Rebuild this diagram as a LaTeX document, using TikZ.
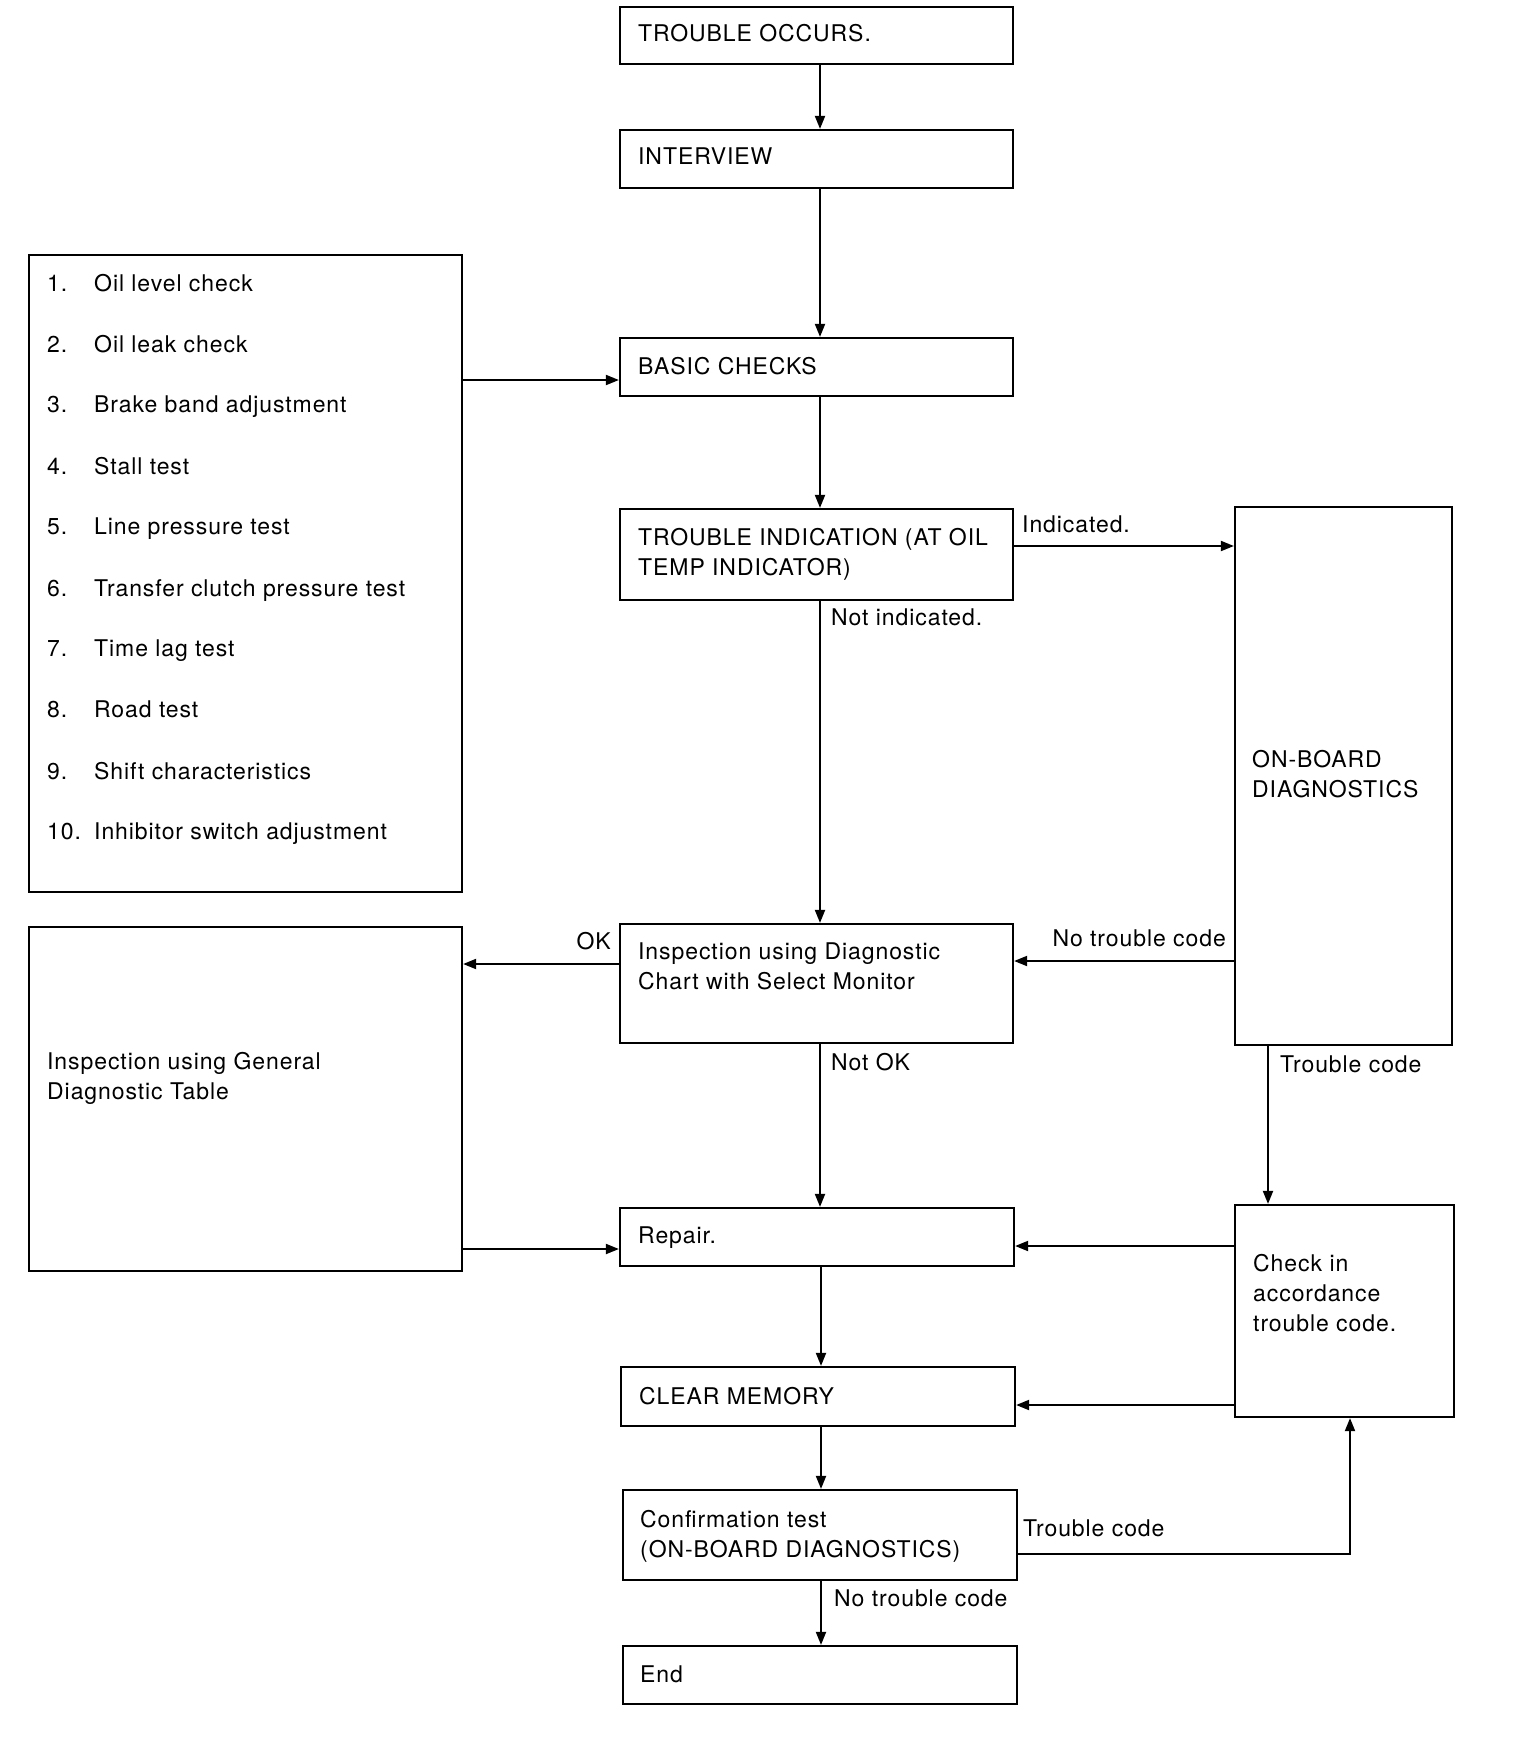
\documentclass[tikz,border=0pt]{standalone}
\usepackage{fontspec}
\setmainfont{TeX Gyre Heros}[LetterSpace=4]
\usetikzlibrary{arrows.meta}
\begin{document}
\begin{tikzpicture}[x=1pt,y=-1pt,
  box/.style={draw, line width=2.2pt, rectangle, inner sep=0pt},
  txt/.style={anchor=north west, inner sep=0pt, align=left, font=\fontsize{23}{30}\selectfont},
  arr/.style={line width=1.9pt, -{Triangle[length=13pt,width=10pt]}}]
\useasboundingbox (0,0) rectangle (1536,1740);

% boxes
\node[box, minimum width=393pt, minimum height=57pt]  (occ)    at (816.5,35.5)  {};
\node[box, minimum width=393pt, minimum height=58pt]  (intv)   at (816.5,159)   {};
\node[box, minimum width=393pt, minimum height=58pt]  (basic)  at (816.5,367)   {};
\node[box, minimum width=393pt, minimum height=91pt]  (ti)     at (816.5,554.5) {};
\node[box, minimum width=393pt, minimum height=119pt] (insp)   at (816.5,983.5) {};
\node[box, minimum width=394pt, minimum height=58pt]  (repair) at (817,1237)    {};
\node[box, minimum width=394pt, minimum height=59pt]  (clear)  at (818,1396.5)  {};
\node[box, minimum width=394pt, minimum height=90pt]  (conf)   at (820,1535)    {};
\node[box, minimum width=394pt, minimum height=58pt]  (end)    at (820,1675)    {};
\node[box, minimum width=433pt, minimum height=637pt] (list)   at (245.5,573.5) {};
\node[box, minimum width=433pt, minimum height=344pt] (gen)    at (245.5,1099)  {};
\node[box, minimum width=217pt, minimum height=538pt] (obd)    at (1343.5,776)  {};
\node[box, minimum width=219pt, minimum height=212pt] (check)  at (1344.5,1311) {};

% box texts
\node[txt] (tocc)    at (638,24)   {TROUBLE OCCURS.};
\node[txt] (tintv)   at (638,148)  {INTERVIEW};
\node[txt] (tbasic)  at (638,357)  {BASIC CHECKS};
\node[txt] (tti)     at (638,528)  {TROUBLE INDICATION (AT OIL\\TEMP INDICATOR)};
\node[txt] (tinsp)   at (638,943)  {Inspection using Diagnostic\\Chart with Select Monitor};
\node[txt] (trepair) at (638,1227) {Repair.};
\node[txt] (tclear)  at (639,1387) {CLEAR MEMORY};
\node[txt] (tconf)   at (640,1510) {Confirmation test\\(ON-BOARD DIAGNOSTICS)};
\node[txt] (tend)    at (640,1666) {End};
\node[txt] (tgen)    at (47,1052)  {Inspection using General\\Diagnostic Table};
\node[txt] (tobd)    at (1252,750) {ON-BOARD\\DIAGNOSTICS};
\node[txt] (tcheck)  at (1253,1254) {Check in\\accordance\\trouble code.};
\foreach \t [count=\i] in {Oil level check, Oil leak check, Brake band adjustment,
  Stall test, Line pressure test, Transfer clutch pressure test, Time lag test,
  Road test, Shift characteristics, Inhibitor switch adjustment}
  \node[txt] (item\i) at (47,{274+61*(\i-1)}) {\makebox[47pt][l]{\i.}\t};

% helper coordinates
\coordinate (mx) at (820,0);
\coordinate (mx2) at (821,0);
\coordinate (yList) at (0,380);
\coordinate (yInd) at (0,546);
\coordinate (yNTC) at (0,961);
\coordinate (yOK) at (0,964);
\coordinate (xTC) at (1268,0);
\coordinate (yGen) at (0,1249);
\coordinate (yChkR) at (0,1246);
\coordinate (yChkC) at (0,1405);
\coordinate (yConf) at (0,1554);
\coordinate (xConf) at (1350,0);

% connectors
\draw[arr] (occ.south -| mx) -- (intv.north -| mx);
\draw[arr] (intv.south -| mx) -- (basic.north -| mx);
\draw[arr] (list.east |- yList) -- (basic.west |- yList);
\draw[arr] (basic.south -| mx) -- (ti.north -| mx);
\draw[arr] (ti.east |- yInd) -- (obd.west |- yInd);
\draw[arr] (ti.south -| mx) -- (insp.north -| mx);
\draw[arr] (obd.west |- yNTC) -- (insp.east |- yNTC);
\draw[arr] (insp.west |- yOK) -- (gen.east |- yOK);
\draw[arr] (insp.south -| mx) -- (repair.north -| mx);
\draw[arr] (obd.south -| xTC) -- (check.north -| xTC);
\draw[arr] (gen.east |- yGen) -- (repair.west |- yGen);
\draw[arr] (check.west |- yChkR) -- (repair.east |- yChkR);
\draw[arr] (repair.south -| mx2) -- (clear.north -| mx2);
\draw[arr] (check.west |- yChkC) -- (clear.east |- yChkC);
\draw[arr] (clear.south -| mx2) -- (conf.north -| mx2);
\draw[arr] (conf.east |- yConf) -| (check.south -| xConf);
\draw[arr] (conf.south -| mx2) -- (end.north -| mx2);

% connector labels
\node[txt] (lInd) at (1022,516) {Indicated.};
\node[txt] (lNotInd) at (831,609) {Not indicated.};
\node[txt, anchor=north east] (lNTC1) at (1226,930) {No trouble code};
\node[txt, anchor=north east] (lOK) at (611,932) {OK};
\node[txt] (lNotOK) at (831,1053) {Not OK};
\node[txt] (lTC1) at (1280,1056) {Trouble code};
\node[txt] (lTC2) at (1023,1520) {Trouble code};
\node[txt] (lNTC2) at (834,1590) {No trouble code};
\end{tikzpicture}
\end{document}
